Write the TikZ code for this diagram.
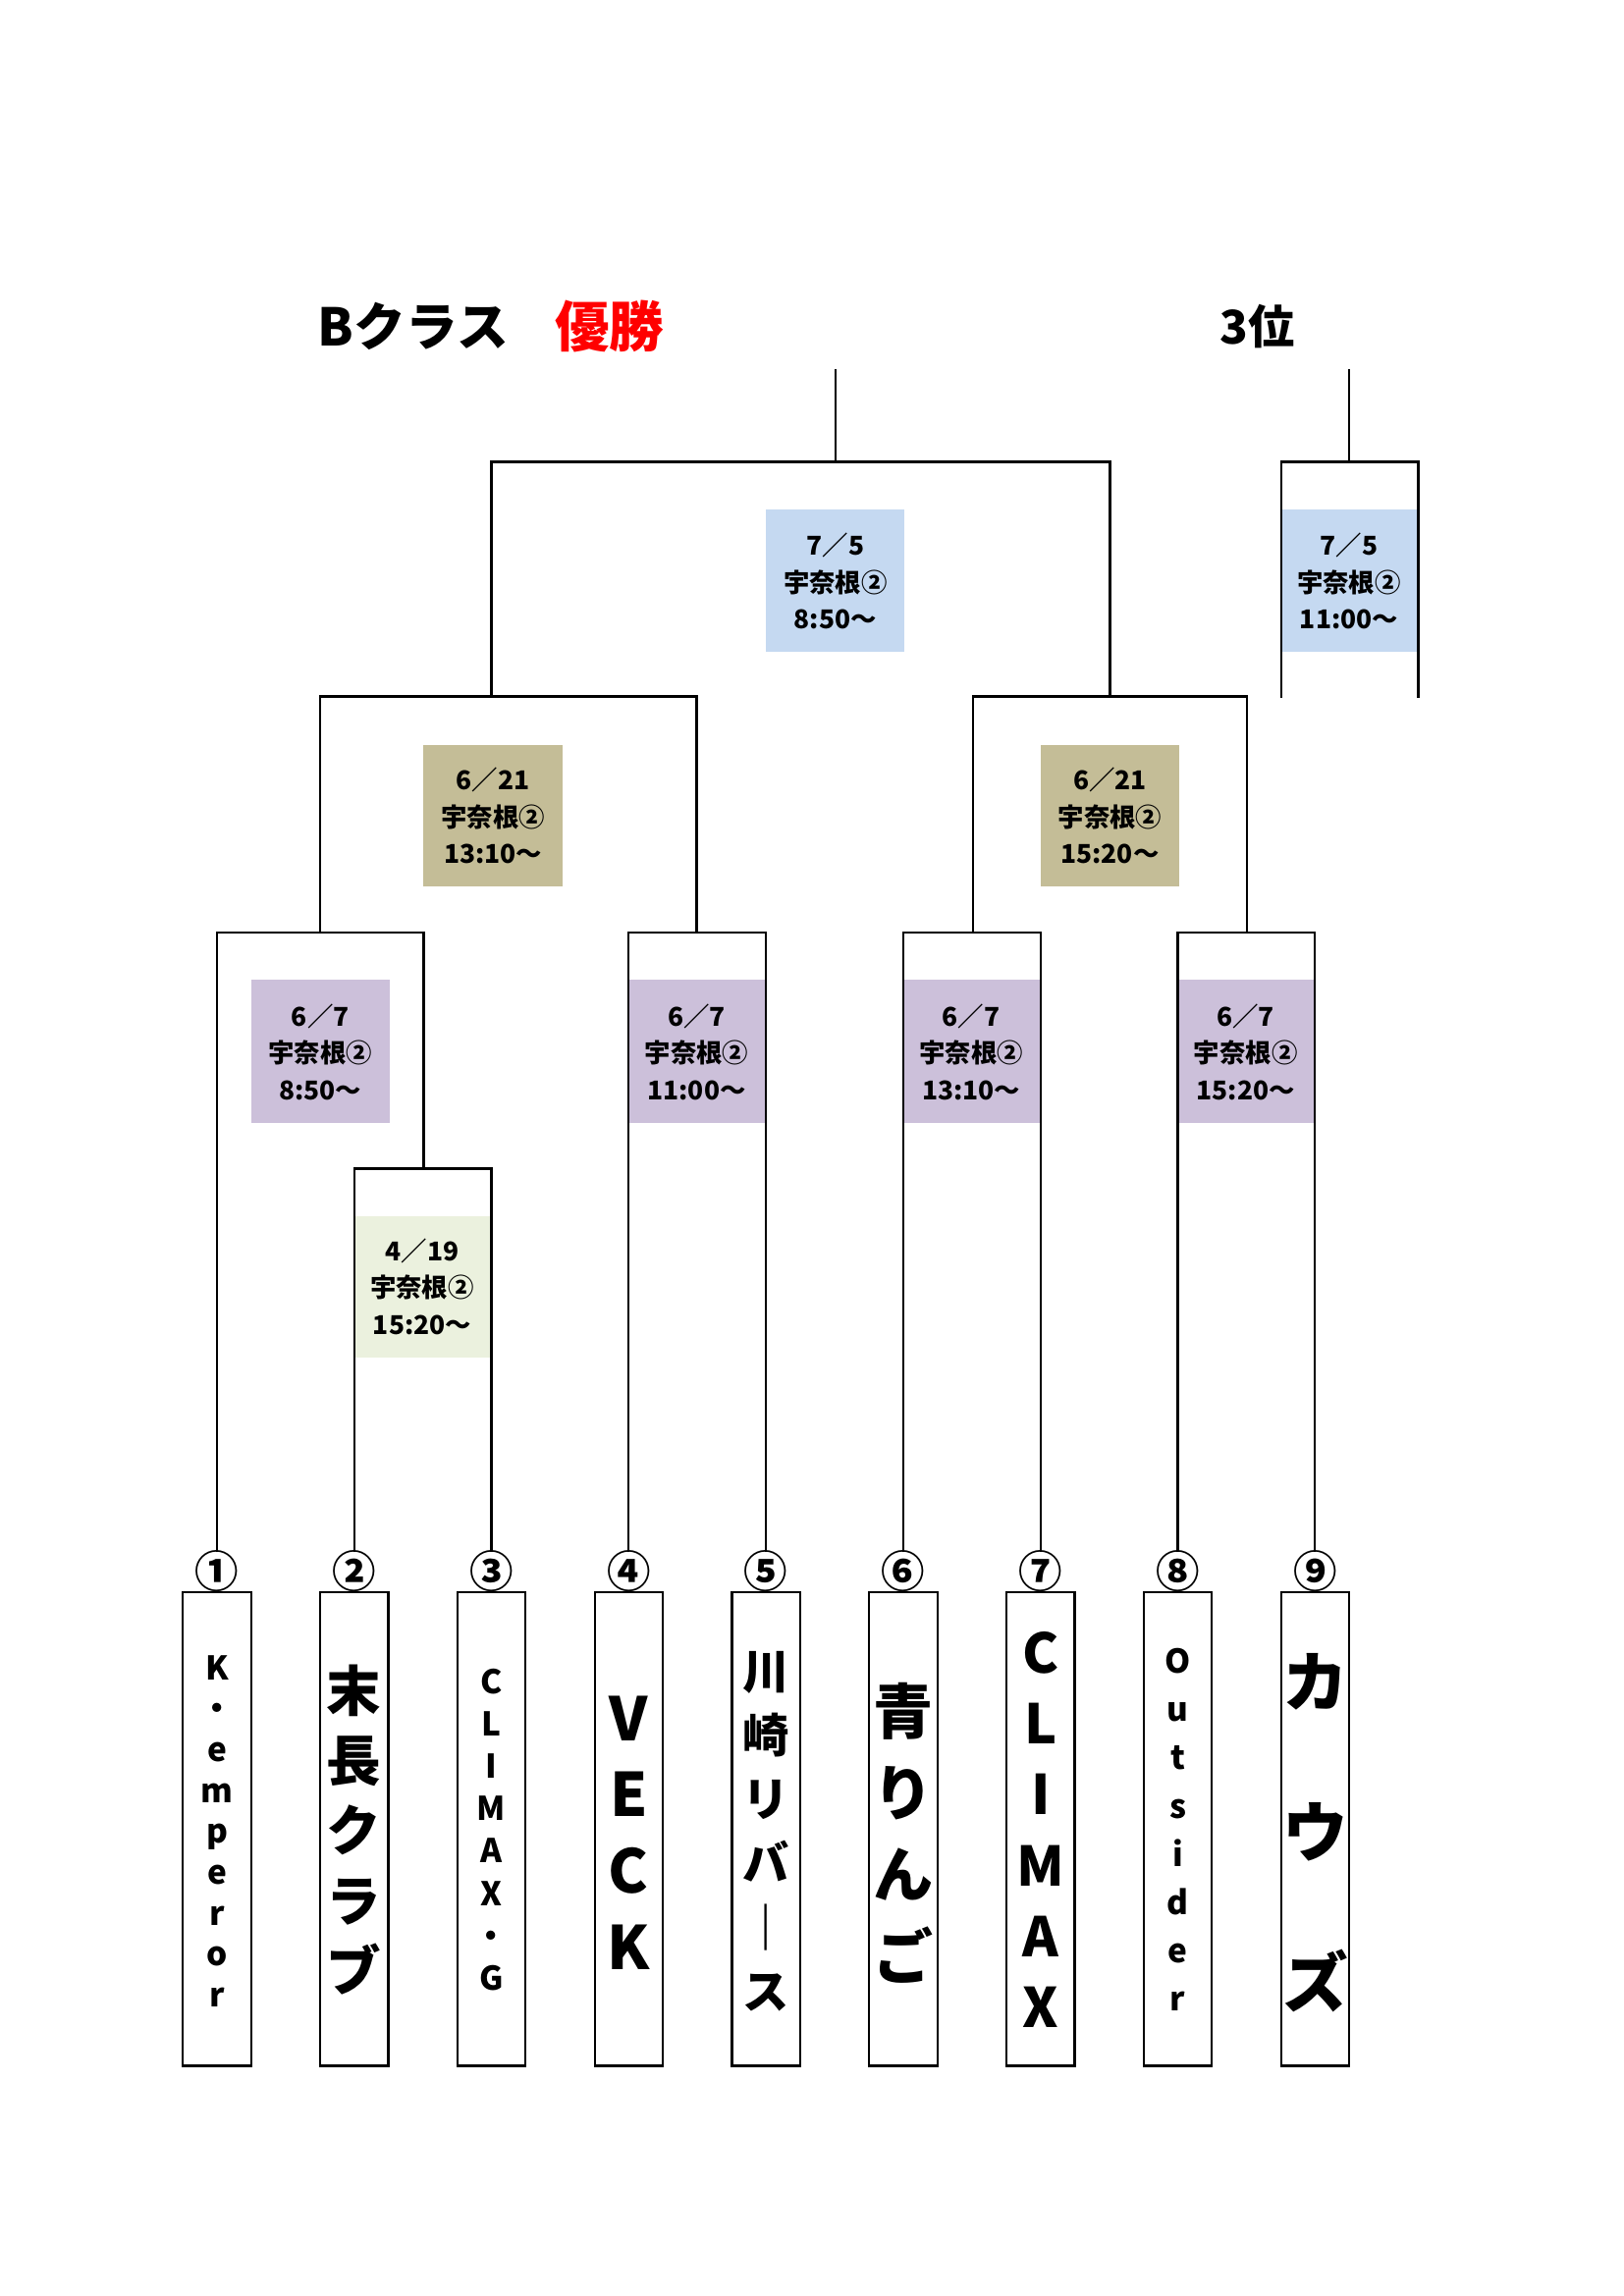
\documentclass[tikz,border=0pt]{standalone}
\usepackage{fontspec}
\setmainfont{Noto Sans CJK JP}
\definecolor{cblue}{HTML}{C5D9F1}
\definecolor{ctan}{HTML}{C4BD97}
\definecolor{cpur}{HTML}{CCC0DA}
\definecolor{cgrn}{HTML}{EBF1DE}
\begin{document}
\begin{tikzpicture}[x=0.541pt,y=-0.541pt,
  ln/.style={line width=0.8pt},
  dbox/.style={inner sep=0pt,align=center,font=\fontsize{9.5}{13.5}\selectfont\bfseries},
  team/.style={draw,line width=0.8pt,minimum width=25pt,minimum height=173.7pt,inner sep=0pt},
  tt/.style={align=center,inner sep=0pt,anchor=center}]
\useasboundingbox (0,0) rectangle (1100,1556);
\node (t1) at (280,221) {\fontsize{19}{19}\selectfont\bfseries Bクラス};
\node[text=red] (t2) at (413,221) {\fontsize{20}{20}\selectfont\bfseries 優勝};
\node (t3) at (852,221) {\fontsize{17}{17}\selectfont\bfseries 3位};
% fills
\fill[cblue] (519,345) rectangle (613,442);
\fill[cblue] (868,345) rectangle (961,442);
\fill[ctan] (287,505) rectangle (381,601);
\fill[ctan] (705,505) rectangle (799,601);
\fill[cpur] (170,664) rectangle (264,761);
\fill[cpur] (426,664) rectangle (519,761);
\fill[cpur] (612,664) rectangle (705,761);
\fill[cpur] (798,664) rectangle (891,761);
\fill[cgrn] (240,824) rectangle (333,920);
\node[dbox] (d1) at (566,394) {7／5\\宇奈根②\\8:50～};
\node[dbox] (d2) at (914,394) {7／5\\宇奈根②\\11:00～};
\node[dbox] (d3) at (334,553) {6／21\\宇奈根②\\13:10～};
\node[dbox] (d4) at (752,553) {6／21\\宇奈根②\\15:20～};
\node[dbox] (d5) at (217,713) {6／7\\宇奈根②\\8:50～};
\node[dbox] (d6) at (472,713) {6／7\\宇奈根②\\11:00～};
\node[dbox] (d7) at (658,713) {6／7\\宇奈根②\\13:10～};
\node[dbox] (d8) at (844,713) {6／7\\宇奈根②\\15:20～};
\node[dbox] (d9) at (286,872) {4／19\\宇奈根②\\15:20～};
% lines
\draw[ln] (566,250) -- (566,313);
\draw[ln] (333,472) -- (333,313) -- (752,313) -- (752,472);
\draw[ln] (914,250) -- (914,313);
\draw[ln] (868,473) -- (868,313) -- (961,313) -- (961,473);
\draw[ln] (217,632) -- (217,472) -- (472,472) -- (472,632);
\draw[ln] (659,632) -- (659,472) -- (845,472) -- (845,632);
\draw[ln] (147,1052) -- (147,632) -- (287,632) -- (287,792);
\draw[ln] (240,1052) -- (240,792) -- (333,792) -- (333,1052);
\draw[ln] (426,1052) -- (426,632) -- (519,632) -- (519,1052);
\draw[ln] (612,1052) -- (612,632) -- (705,632) -- (705,1052);
\draw[ln] (798,1052) -- (798,632) -- (891,632) -- (891,1052);
% numbers and teams
\foreach \i/\x in {1/147,2/240,3/333,4/426,5/519,6/612,7/705,8/798,9/891}{
  \node[inner sep=0pt] (n\i) at (\x,1065) {\fontsize{16}{16}\selectfont\bfseries\ifcase\i\or①\or②\or③\or④\or⑤\or⑥\or⑦\or⑧\or⑨\fi};
  \node[team] (b\i) at (\x,1239.5) {};
}
\node[tt,font=\fontsize{12}{15}\selectfont\bfseries] (s1) at (147,1241) {K\\・\\e\\m\\p\\e\\r\\o\\r};
\node[tt,font=\fontsize{20}{25.7}\selectfont\bfseries] (s2) at (240,1240) {末\\長\\ク\\ラ\\ブ};
\node[tt,font=\fontsize{12}{15.5}\selectfont\bfseries] (s3) at (333,1240) {C\\L\\I\\M\\A\\X\\・\\G};
\node[tt,font=\fontsize{22}{28}\selectfont\bfseries] (s4) at (426,1242) {V\\E\\C\\K};
\node[tt,font=\fontsize{17}{23.5}\selectfont\bfseries] (s5) at (519,1241) {川\\崎\\リ\\バ\\｜\\ス};
\node[tt,font=\fontsize{22}{30}\selectfont\bfseries] (s6) at (612,1242) {青\\り\\ん\\ご};
\node[tt,font=\fontsize{20}{26}\selectfont\bfseries] (s7) at (705,1240) {C\\L\\I\\M\\A\\X};
\node[tt,font=\fontsize{12}{17.7}\selectfont\bfseries] (s8) at (798,1240) {O\\u\\t\\s\\i\\d\\e\\r};
\node[tt,font=\fontsize{24}{55}\selectfont\bfseries] (s9) at (891,1242) {カ\\ウ\\ズ};
\end{tikzpicture}
\end{document}
